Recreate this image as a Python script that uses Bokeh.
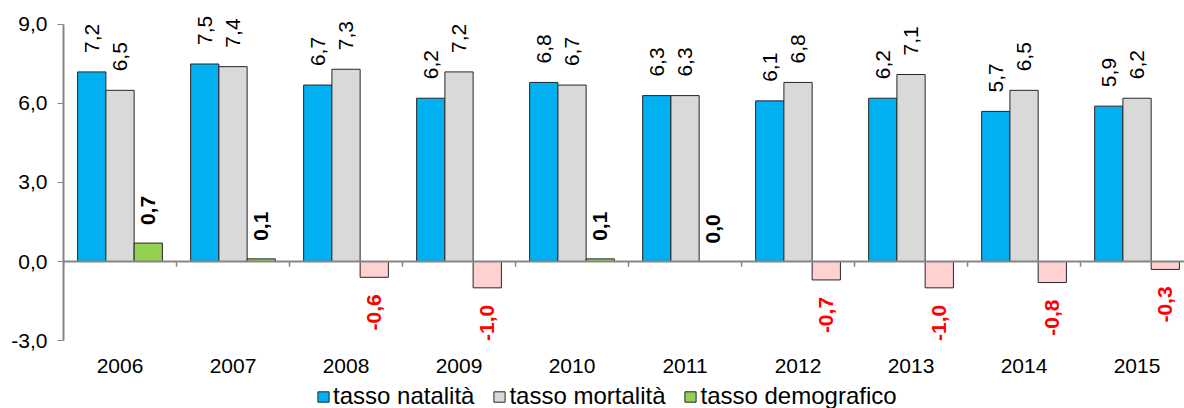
import math
from bokeh.plotting import figure
from bokeh.models import (ColumnDataSource, Range1d, FixedTicker, CustomJSTickFormatter,
                          Span, Legend, LegendItem)
from bokeh.transform import dodge
from bokeh.core.properties import value
from bokeh.embed import file_html
from bokeh.resources import INLINE

years = ["2006", "2007", "2008", "2009", "2010", "2011", "2012", "2013", "2014", "2015"]
natalita = [7.2, 7.5, 6.7, 6.2, 6.8, 6.3, 6.1, 6.2, 5.7, 5.9]
mortalita = [6.5, 7.4, 7.3, 7.2, 6.7, 6.3, 6.8, 7.1, 6.5, 6.2]
demografico = [0.7, 0.1, -0.6, -1.0, 0.1, 0.0, -0.7, -1.0, -0.8, -0.3]
y_ticks = [-3.0, 0.0, 3.0, 6.0, 9.0]

FONT = "Liberation Sans"
BLUE, GRAY, GREEN, PINK = "#00B0F0", "#D9D9D9", "#92D050", "#FFD1D1"
AXIS = "#868686"

def fmt(v):
    return f"{v:.1f}".replace(".", ",")

n = len(years)
centers = [i + 0.5 for i in range(n)]
src = ColumnDataSource(dict(
    x=centers, nat=natalita, mor=mortalita, dem=demografico,
    dem_color=[GREEN if v >= 0 else PINK for v in demografico],
    nat_lbl=[fmt(v) for v in natalita], mor_lbl=[fmt(v) for v in mortalita],
))

# plotting frame spans the whole figure height; axis drawn only from -3 to 9
p = figure(width=1184, height=408, output_backend="svg", toolbar_location=None,
           x_range=Range1d(0, 9.92), y_range=Range1d(-5.582, 9.911),
           min_border_left=63, min_border_right=0, min_border_top=0, min_border_bottom=0)
p.outline_line_color = None
p.xgrid.visible = False
p.ygrid.visible = False
p.xaxis.visible = False
p.background_fill_color = "white"
p.border_fill_color = "white"

bw = 0.25
r_nat = p.vbar(x=dodge("x", -bw, range=p.x_range), top="nat", bottom=0, width=bw, source=src,
               fill_color=BLUE, line_color="#262626", line_width=1)
r_mor = p.vbar(x="x", top="mor", bottom=0, width=bw, source=src,
               fill_color=GRAY, line_color="#262626", line_width=1)
r_dem = p.vbar(x=dodge("x", bw, range=p.x_range), top="dem", bottom=0, width=bw, source=src,
               fill_color="dem_color", line_color="#262626", line_width=1)

# zero axis line and ticks at group boundaries
p.add_layout(Span(location=0, dimension="width", line_color=AXIS, line_width=2))
bounds = list(range(n + 1))
p.segment(x0=bounds, y0=[0] * len(bounds), x1=bounds, y1=[-0.2] * len(bounds),
          line_color=AXIS, line_width=1.5)

# value labels
lbl_kw = dict(angle=math.pi / 2, text_baseline="middle", text_font=value(FONT),
              text_font_size="21px", text_color="black")
p.text(x=dodge("x", -bw, range=p.x_range), y="nat", text="nat_lbl", source=src,
       text_align="left", y_offset=-19, **lbl_kw)
p.text(x="x", y="mor", text="mor_lbl", source=src, text_align="left", y_offset=-19, **lbl_kw)

pos = [(c, v) for c, v in zip(centers, demografico) if v >= 0]
neg = [(c, v) for c, v in zip(centers, demografico) if v < 0]
src_pos = ColumnDataSource(dict(x=[c for c, _ in pos], y=[v for _, v in pos], t=[fmt(v) for _, v in pos]))
src_neg = ColumnDataSource(dict(x=[c for c, _ in neg], y=[v for _, v in neg], t=[fmt(v) for _, v in neg]))
dem_kw = dict(angle=math.pi / 2, text_baseline="middle", text_font=value(FONT),
              text_font_size="21px", text_font_style="bold")
p.text(x=dodge("x", bw, range=p.x_range), y="y", text="t", source=src_pos,
       text_align="left", y_offset=-18, text_color="black", **dem_kw)
p.text(x=dodge("x", bw, range=p.x_range), y="y", text="t", source=src_neg,
       text_align="right", y_offset=17, text_color="red", **dem_kw)

# category labels under the axis minimum
ysrc = ColumnDataSource(dict(x=centers, y=[y_ticks[0]] * n, t=years))
p.text(x="x", y="y", text="t", source=ysrc, text_align="center", text_baseline="top",
       y_offset=18, text_font=value(FONT), text_font_size="21px", text_color="black")

# y axis
ya = p.yaxis[0]
ya.ticker = FixedTicker(ticks=y_ticks)
ya.bounds = (y_ticks[0], y_ticks[-1])
ya.formatter = CustomJSTickFormatter(code="return tick.toFixed(1).replace('.', ',');")
ya.axis_line_color = AXIS
ya.axis_line_width = 2
ya.major_tick_line_color = AXIS
ya.major_tick_out = 6
ya.major_tick_in = 0
ya.minor_tick_line_color = None
ya.major_label_standoff = 10
ya.major_label_text_font = FONT
ya.major_label_text_font_size = "21px"
ya.major_label_text_color = "black"

legend = Legend(items=[
    LegendItem(label="tasso natalità", renderers=[r_nat]),
    LegendItem(label="tasso mortalità", renderers=[r_mor]),
    LegendItem(label="tasso demografico", renderers=[r_dem], index=0),
], orientation="horizontal", location=(253, -2), margin=0, padding=0, spacing=18,
   glyph_width=14, glyph_height=13, label_standoff=3,
   label_text_font=FONT, label_text_font_size="24px", label_text_color="black",
   border_line_color=None, background_fill_alpha=0)
p.add_layout(legend, "center")

open("out.html", "w").write(file_html(p, INLINE))
